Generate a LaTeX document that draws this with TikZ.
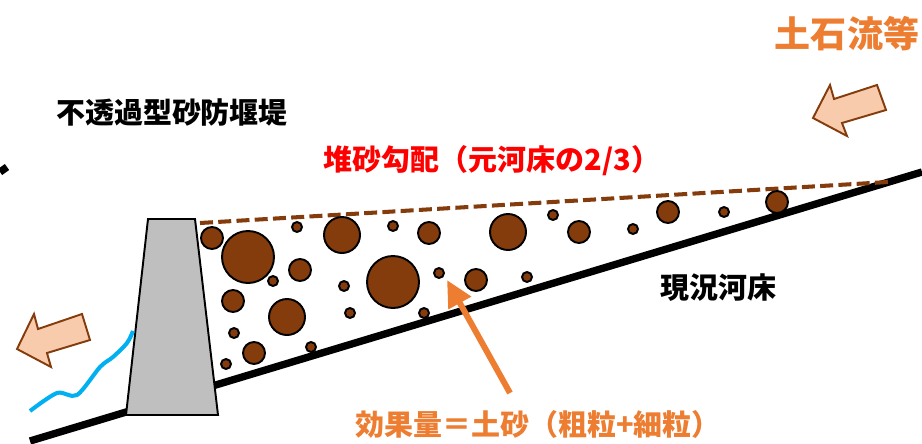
\documentclass[tikz,border=0pt]{standalone}
\usepackage{fontspec}
\newfontfamily\jp{Noto Sans CJK JP}
\usepackage{tikz}
\usetikzlibrary{shapes,arrows,arrows.meta,positioning}
\definecolor{sediment}{HTML}{843C0C}
\definecolor{peach}{HTML}{F8CBAD}
\definecolor{debris}{HTML}{ED7D31}
\definecolor{water}{HTML}{00B0F0}
\definecolor{concrete}{HTML}{BFBFBF}
\tikzstyle{bed}=[line width=4.2pt]
\tikzstyle{dambody}=[draw, fill=concrete, line width=1.1pt, line join=miter]
\tikzstyle{stone}=[draw, fill=sediment, line width=1.1pt]
\tikzstyle{flowarrow}=[draw=sediment, fill=peach, line width=1.1pt, line join=miter]
\tikzstyle{jptext}=[font=\jp\bfseries\fontsize{16.5}{18}\selectfont, inner sep=0pt]

\begin{document}
\begin{tikzpicture}[x=0.02cm, y=-0.02cm]
\useasboundingbox (0,0) rectangle (922,443);

% river bed and deposit slope
\draw[bed] (0,172) -- (7,167);
\draw[bed] (30,441) -- (922,172);
\draw[sediment, line width=2.3pt, dash pattern=on 7.4pt off 3pt] (200,223) -- (888,182);

% dam
\draw[dambody] (148,219) -- (195,219) -- (218,415) -- (126,415) -- cycle;

% water below the dam
\draw[water, line width=2.3pt] plot[smooth] coordinates {(30,411) (57,393) (77,395) (100,367) (113,357) (127,343) (133,331)};

% gravel
\foreach \x/\y/\r in {212/238/11, 248/257/26, 297/227/5, 342/235/18, 393/226/5,
  429/233/11, 508/232/18, 553/215/5, 579/232/11, 273/281/5, 300/270/11,
  233/301/11, 287/317/18, 234/333/5, 254/353/11, 226/364/5, 311/347/5,
  344/286/5, 393/282/26, 350/313/5, 424/313/5, 439/273/5, 476/280/11,
  527/277/5, 633/229/5, 668/212/11, 724/212/5, 777/202/11}
  \draw[stone] (\x,\y) circle (\r);

% flow arrows
\draw[flowarrow] (17,349) -- (34,314) -- (38,329) -- (82,314) -- (90,340) -- (47,353) -- (51,367) -- cycle;
\draw[flowarrow] (813,118) -- (830,85) -- (834,99) -- (877,85) -- (886,110) -- (842,123) -- (847,136) -- cycle;

% labels
\node[jptext] (damlabel) at (172,112) {不透過型砂防堰堤};
\node[jptext, text=red] (slopelabel) at (492,161) {堆砂勾配（元河床の2/3）};
\node[jptext] (bedlabel) at (718,288) {現況河床};
\node[jptext, text=debris, font=\jp\bfseries\fontsize{20.5}{22}\selectfont] (debrislabel) at (847,34) {土石流等};
\node[jptext, text=debris] (effectlabel) at (538,424) {効果量＝土砂（粗粒+細粒）};

\coordinate (pointer) at (447,280);
\coordinate (pointerend) at (510,393);
\draw[debris, line width=3.4pt, -{Triangle[length=15pt,width=14pt]}] (pointerend) -- (pointer);

\end{tikzpicture}
\end{document}
